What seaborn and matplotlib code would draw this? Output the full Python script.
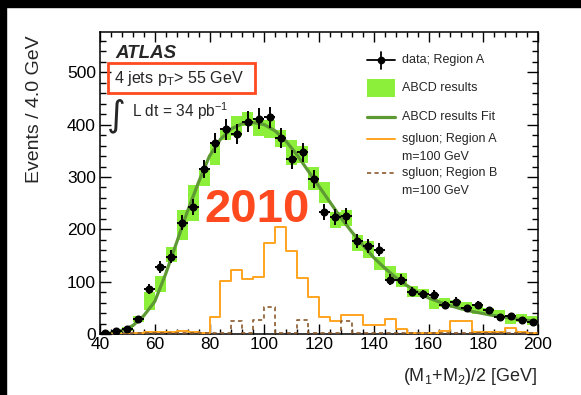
import numpy as np
import pandas as pd
import matplotlib
matplotlib.use("Agg")
import matplotlib.pyplot as plt
from matplotlib.patches import Rectangle
from matplotlib.lines import Line2D
from matplotlib.ticker import MultipleLocator
import seaborn as sns

# ---------------- data ----------------
bin_edges = list(range(40, 201, 4))
bin_centers = [42 + 4 * i for i in range(40)]

data_counts = [2, 5, 10, 28, 86, 128, 148, 213, 242, 315,
               364, 391, 382, 406, 411, 414, 374, 334, 347, 296,
               233, 223, 225, 177, 168, 161, 104, 104, 81, 76,
               75, 56, 62, 49, 56, 45, 33, 35, 26, 23]

abcd_vals = [1, 4, 10, 28, 63, 95, 152, 208, 250, 300,
             345, 382, 397, 411, 394, 391, 374, 347, 343, 298,
             270, 218, 222, 174, 161, 135, 116, 103, 81, 78,
             57, 60, 57, 53, 46, 43, 38, 28, 30, 26]
abcd_err = [2, 3, 4, 6, 17, 15, 14, 28, 35, 18,
            22, 12, 19, 14, 16, 17, 16, 24, 16, 22,
            20, 16, 15, 16, 16, 13, 13, 13, 10, 8,
            10, 8, 8, 8, 7, 7, 7, 8, 8, 8]

fit_x = list(range(40, 201, 4))
fit_y = [0, 2, 7, 16, 35, 62, 115, 175, 235, 290,
         340, 372, 392, 402, 404, 400, 388, 368, 342, 312,
         282, 252, 222, 195, 170, 146, 126, 108, 93, 80,
         69, 61, 54, 48, 43, 39, 35, 32, 29, 26, 24]

sgluon_A = [0, 0, 0, 1, 3, 3, 3, 5, 4, 2,
            33, 102, 122, 105, 108, 174, 205, 159, 107, 70,
            33, 24, 37, 36, 18, 17, 28, 10, 1, 1,
            2, 5, 24, 24, 4, 3, 4, 12, 4, 1]
sgluon_B = [1, 1, 1, 1, 1, 1, 1, 1, 1, 1,
            1, 1, 24, 1, 27, 51, 1, 1, 27, 1,
            1, 1, 24, 1, 1, 1, 1, 1, 1, 1,
            1, 1, 1, 1, 1, 1, 1, 1, 1, 1]

x_ticks = [40, 60, 80, 100, 120, 140, 160, 180, 200]
y_ticks = [0, 100, 200, 300, 400, 500]

# ---------------- style ----------------
sns.set_style("ticks")
plt.rcParams['font.family'] = ['Liberation Sans', 'DejaVu Sans']
plt.rcParams['mathtext.fontset'] = 'custom'
plt.rcParams['mathtext.rm'] = 'Liberation Sans'
plt.rcParams['mathtext.it'] = 'Liberation Sans:italic'
plt.rcParams['mathtext.bf'] = 'Liberation Sans:bold'

GREEN = "#8cf03a"
FIT = "#5e9a34"
ORANGE = "#ffa51f"
BROWN = "#8b5a2b"
RED = "#ff4a1f"

fig = plt.figure(figsize=(5.81, 3.95), dpi=100)
fig.patch.set_facecolor("white")
ax = fig.add_axes([100 / 581, 1 - 334 / 395, 438 / 581, 302 / 395])

df = pd.DataFrame({"x": bin_centers, "data": data_counts, "abcd": abcd_vals,
                   "abcd_err": abcd_err, "sgA": sgluon_A, "sgB": sgluon_B})

# ABCD result boxes
ax.bar(df["x"], 2 * df["abcd_err"], bottom=df["abcd"] - df["abcd_err"], width=4,
       color=GREEN, linewidth=0, zorder=1)

# fit
sns.lineplot(x=fit_x, y=fit_y, color=FIT, lw=2.3, ax=ax, zorder=2)

# signal histograms
sns.histplot(data=df, x="x", weights="sgA", bins=bin_edges, element="step", fill=False,
             color=ORANGE, linewidth=1.4, ax=ax, zorder=3)
sns.histplot(data=df, x="x", weights="sgB", bins=bin_edges, element="step", fill=False,
             color=BROWN, linewidth=1.2, linestyle=(0, (2.5, 2)), ax=ax, zorder=3)

# data
ax.errorbar(df["x"], df["data"], yerr=np.sqrt(df["data"]), xerr=2, fmt="o",
            color="black", ms=4.8, elinewidth=1.4, capsize=0, zorder=5)

ax.set_xlim(40, 200)
ax.set_ylim(0, 577)
ax.set_xticks(x_ticks)
ax.set_yticks(y_ticks)
ax.xaxis.set_minor_locator(MultipleLocator(4))
ax.yaxis.set_minor_locator(MultipleLocator(20))
ax.tick_params(which="both", direction="in", top=True, right=True, width=1.0,
               labelsize=12.5, colors="black")
ax.tick_params(axis="x", which="major", length=7, pad=2)
ax.tick_params(axis="x", which="minor", length=3.5)
ax.tick_params(axis="y", which="major", length=8, pad=3)
ax.tick_params(axis="y", which="minor", length=4.5)
for s in ax.spines.values():
    s.set_linewidth(1.1)
    s.set_color("black")

ax.set_ylabel("Events / 4.0 GeV", fontsize=14, loc="top")
ax.yaxis.set_label_coords(-0.13, 0.99)
ax.set_xlabel(r"(M$_1$+M$_2$)/2 [GeV]", fontsize=13, loc="right")
ax.xaxis.set_label_coords(1.0, -0.105)

# annotations
ax.text(0.034, 0.915, "ATLAS", transform=ax.transAxes, fontsize=13.5,
        fontweight="bold", fontstyle="italic", va="baseline")
ax.add_patch(Rectangle((0.0183, 0.798), 0.336, 0.099, transform=ax.transAxes,
                       fill=False, edgecolor=RED, lw=2.0, zorder=6))
ax.text(0.033, 0.831, r"4 jets p$_{\mathrm{T}}$> 55 GeV", transform=ax.transAxes,
        fontsize=11.6, va="baseline")
ax.text(0.016, 0.69, "\u222b", transform=ax.transAxes, fontsize=26,
        family="DejaVu Sans", va="baseline")
ax.text(0.073, 0.72, r"L dt = 34 pb$^{\mathrm{-1}}$", transform=ax.transAxes,
        fontsize=11.2, va="baseline")
ax.text(0.358, 0.371, "2010", transform=ax.transAxes, fontsize=34,
        fontweight="bold", color=RED, ha="center", va="baseline", zorder=4)

# legend (drawn in axes fraction)
hx0, hx1 = 0.6096, 0.6735
hxc = (hx0 + hx1) / 2
tx = 0.6895
fs = 9
y1 = 0.907
ax.add_line(Line2D([hx0, hx1], [y1, y1], color="black", lw=1.3, transform=ax.transAxes))
ax.add_line(Line2D([hxc, hxc], [y1 - 0.028, y1 + 0.028], color="black", lw=1.3, transform=ax.transAxes))
ax.add_line(Line2D([hxc], [y1], marker="o", ms=4.5, color="black", transform=ax.transAxes))
ax.text(tx, y1, "data; Region A", transform=ax.transAxes, fontsize=fs, va="center")
y2 = 0.815
ax.add_patch(Rectangle((hx0, y2 - 0.03), hx1 - hx0, 0.06, transform=ax.transAxes,
                       color=GREEN, lw=0))
ax.text(tx, y2, "ABCD results", transform=ax.transAxes, fontsize=fs, va="center")
y3 = 0.7195
ax.add_line(Line2D([hx0, hx1], [y3, y3], color=FIT, lw=2.3, transform=ax.transAxes))
ax.text(tx, y3, "ABCD results Fit", transform=ax.transAxes, fontsize=fs, va="center")
y4 = 0.6457
ax.add_line(Line2D([hx0, hx1], [y4, y4], color=ORANGE, lw=1.4, transform=ax.transAxes))
ax.text(tx, y4, "sgluon; Region A", transform=ax.transAxes, fontsize=fs, va="center")
ax.text(tx, 0.586, "m=100 GeV", transform=ax.transAxes, fontsize=fs, va="center")
y5 = 0.532
ax.add_line(Line2D([hx0, hx1], [y5, y5], color=BROWN, lw=1.2, ls=(0, (2.5, 2)),
                   transform=ax.transAxes))
ax.text(tx, y5, "sgluon; Region B", transform=ax.transAxes, fontsize=fs, va="center")
ax.text(tx, 0.4735, "m=100 GeV", transform=ax.transAxes, fontsize=fs, va="center")

# black border strips of the original screenshot
fig.patches.append(Rectangle((0, 0), 6 / 581, 1, transform=fig.transFigure,
                             color="black", zorder=10))
fig.patches.append(Rectangle((0, 1 - 7 / 395), 1, 7 / 395, transform=fig.transFigure,
                             color="black", zorder=10))

fig.savefig("out.png", dpi=100)
